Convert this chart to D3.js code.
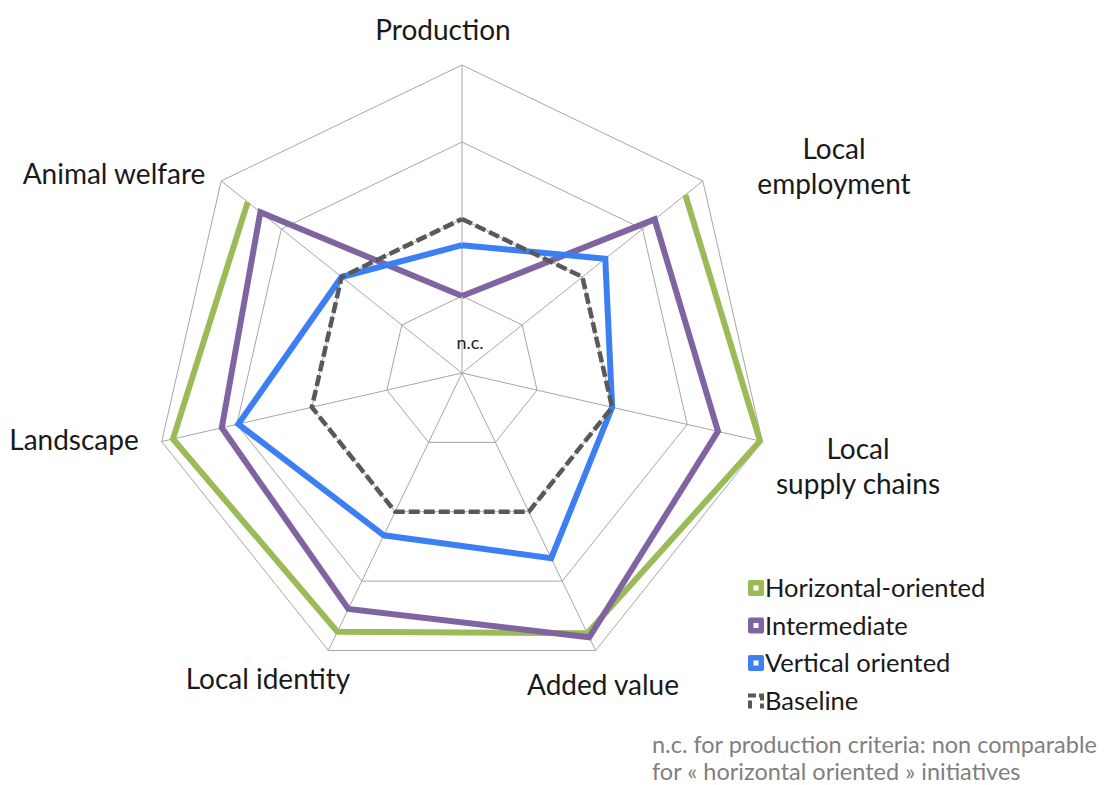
<!DOCTYPE html>
<html>
<head>
<meta charset="utf-8">
<script src="https://cdn.jsdelivr.net/npm/d3@7"></script>
<style>
  body { margin: 0; background: #fff; }
  svg { display: block; font-family: Lato, "Open Sans", sans-serif; }
</style>
</head>
<body>
<div id="chart"></div>
<script>
// Criteria around the radar, clockwise from the top
var criteria = ['Production', 'Local employment', 'Local supply chains', 'Added value',
  'Local identity', 'Landscape', 'Animal welfare'];

// Scores per initiative type (null = not comparable)
var horizontal = [null, 3.71, 3.97, 3.75, 3.73, 3.85, 3.56];
var intermediate = [1.0, 3.2, 3.41, 3.81, 3.4, 3.2, 3.35];
var vertical = [1.66, 2.38, 2.0, 2.67, 2.34, 2.98, 2.0];
var baseline = [2, 2, 2, 2, 2, 2, 2];

var gridLevels = [1, 2, 3, 4];

var seriesNames = ['Horizontal-oriented', 'Intermediate', 'Vertical oriented', 'Baseline'];
var seriesColors = ['#9bbb59', '#8064a2', '#3b7ff2', '#595959'];

var note = ['n.c. for production criteria: non comparable',
  'for \u00ab horizontal oriented \u00bb initiatives'];

var width = 1107, height = 785;
var cx = 462, cy = 373;

var svg = d3.select('#chart').append('svg')
  .attr('width', width)
  .attr('height', height);

var r = d3.scaleLinear().domain([0, 4]).range([0, 308]);
var angle = d3.scaleLinear().domain([0, criteria.length]).range([0, 2 * Math.PI]);

var plot = svg.append('g').attr('transform', `translate(${cx},${cy})`);

// grid rings
var ring = d3.lineRadial()
  .angle((d, i) => angle(i))
  .radius((d) => r(d))
  .curve(d3.curveLinearClosed);

plot.append('g')
  .selectAll('path')
  .data(gridLevels)
  .join('path')
  .attr('d', (lvl) => ring(criteria.map(() => lvl)))
  .attr('fill', 'none')
  .attr('stroke', '#a6a6a6')
  .attr('stroke-width', 1);

// spokes
plot.append('g')
  .selectAll('line')
  .data(criteria)
  .join('line')
  .attr('x1', 0)
  .attr('y1', 0)
  .attr('x2', (d, i) => r(4) * Math.sin(angle(i)))
  .attr('y2', (d, i) => -r(4) * Math.cos(angle(i)))
  .attr('stroke', '#a6a6a6')
  .attr('stroke-width', 1);

// series lines; repeat the first point so the shape closes, gaps break it
var series = [horizontal, intermediate, vertical, baseline];
var line = d3.lineRadial()
  .defined((d) => d != null)
  .angle((d, i) => angle(i))
  .radius((d) => r(d));

plot.append('g')
  .selectAll('path')
  .data(series)
  .join('path')
  .attr('d', (vals) => line(vals.concat([vals[0]])))
  .attr('fill', 'none')
  .attr('stroke', (d, i) => seriesColors[i])
  .attr('stroke-width', (d, i) => (i === 3 ? 4.5 : 6))
  .attr('stroke-dasharray', (d, i) => (i === 3 ? '11,4' : null))
  .attr('stroke-linejoin', 'miter')
  .attr('stroke-linecap', 'butt');

plot.append('text')
  .attr('x', 8)
  .attr('y', -24)
  .attr('text-anchor', 'middle')
  .attr('font-size', 18)
  .attr('fill', '#222')
  .text('n.c.');

// axis labels
var labelPos = [
  { lines: ['Production'], x: 443, y: 40 },
  { lines: ['Local', 'employment'], x: 834, y: 159 },
  { lines: ['Local', 'supply chains'], x: 858, y: 459 },
  { lines: ['Added value'], x: 603, y: 695 },
  { lines: ['Local identity'], x: 268, y: 689 },
  { lines: ['Landscape'], x: 74, y: 450 },
  { lines: ['Animal welfare'], x: 114, y: 184 },
];

svg.append('g')
  .selectAll('text')
  .data(labelPos)
  .join('text')
  .attr('x', (d) => d.x)
  .attr('y', (d) => d.y)
  .attr('text-anchor', 'middle')
  .attr('font-size', 28)
  .attr('fill', '#1a1a1a')
  .each(function (d) {
    d3.select(this).selectAll('tspan')
      .data(d.lines)
      .join('tspan')
      .attr('x', d.x)
      .attr('dy', (t, j) => (j === 0 ? 0 : 35))
      .text((t) => t);
  });

// legend
var legend = svg.append('g').attr('transform', 'translate(748,580)');
var rows = legend.selectAll('g')
  .data(seriesNames)
  .join('g')
  .attr('transform', (d, i) => `translate(0,${i * 37.5})`);

rows.filter((d, i) => i < 3).append('rect')
  .attr('x', 0).attr('y', 0)
  .attr('width', 16).attr('height', 16)
  .attr('rx', 2)
  .attr('fill', (d, i) => seriesColors[i]);
rows.filter((d, i) => i < 3).append('rect')
  .attr('x', 5.5).attr('y', 5.5)
  .attr('width', 5).attr('height', 5)
  .attr('fill', '#fff');

var base = rows.filter((d, i) => i === 3);
base.append('path')
  .attr('d', 'M2,16 V3 H14 V16')
  .attr('fill', 'none')
  .attr('stroke', seriesColors[3])
  .attr('stroke-width', 4)
  .attr('stroke-dasharray', '8,3');

rows.append('text')
  .attr('x', 17)
  .attr('y', 17)
  .attr('font-size', 25.5)
  .attr('fill', '#1a1a1a')
  .text((d) => d);

// footnote
svg.append('g')
  .selectAll('text')
  .data(note)
  .join('text')
  .attr('x', 652)
  .attr('y', (d, i) => 753 + i * 27)
  .attr('font-size', 23.5)
  .attr('fill', '#7f7f7f')
  .text((d) => d);
</script>
</body>
</html>
